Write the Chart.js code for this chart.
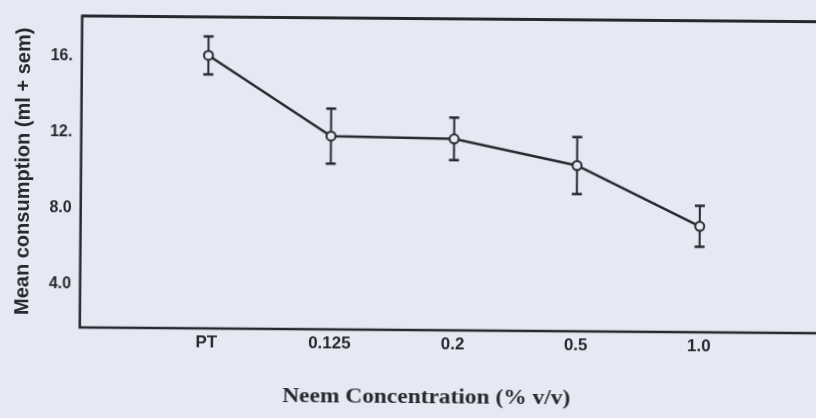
<!DOCTYPE html>
<html>
<head>
<meta charset="utf-8">
<script src="https://cdn.jsdelivr.net/npm/chart.js@4.4.1/dist/chart.umd.min.js"></script>
<style>
  html, body { margin: 0; padding: 0; background: #e6e8f3; overflow: hidden; width: 816px; height: 418px; }
  #wrap { position: absolute; left: 0; top: 0; width: 830px; height: 418px; transform: rotate(0.45deg); transform-origin: 408px 209px; }
  canvas { display: block; }
</style>
</head>
<body>
<div id="wrap"><canvas id="c" width="830" height="418"></canvas></div>
<script>
// ---- data ----
const categories = ["PT", "0.125", "0.2", "0.5", "1.0"];
const categoryPositions = [1, 2, 3, 4, 5];
const meanConsumption = [16.1, 11.9, 11.8, 10.45, 7.3];
const sem = [1.0, 1.45, 1.12, 1.5, 1.08];
const yTickValues = [4, 8, 12, 16];
const yTickLabels = ["4.0", "8.0", "12.", "16."];
const xTitle = "Neem Concentration (% v/v)";
const yTitle = "Mean consumption (ml + sem)";

// ---- styles ----
const INK = "#28282e";
const PAPER = "#e6e8f3";

const errorBars = {
  id: "errorBars",
  beforeDatasetsDraw(chart) {
    const ctx = chart.ctx, xs = chart.scales.x, ys = chart.scales.y;
    ctx.save();
    ctx.strokeStyle = INK;
    categoryPositions.forEach((p, i) => {
      const x = xs.getPixelForValue(p);
      const yt = ys.getPixelForValue(meanConsumption[i] + sem[i]);
      const yb = ys.getPixelForValue(meanConsumption[i] - sem[i]);
      ctx.lineWidth = 2;
      ctx.beginPath(); ctx.moveTo(x, yt); ctx.lineTo(x, yb); ctx.stroke();
      ctx.lineWidth = 2.5;
      ctx.beginPath();
      ctx.moveTo(x - 5, yt); ctx.lineTo(x + 5, yt);
      ctx.moveTo(x - 5, yb); ctx.lineTo(x + 5, yb);
      ctx.stroke();
    });
    ctx.restore();
  }
};

const frame = {
  id: "frame",
  afterDraw(chart) {
    const { ctx, chartArea: a } = chart;
    ctx.save();
    ctx.strokeStyle = INK;
    ctx.lineWidth = 3;
    ctx.beginPath(); ctx.moveTo(a.left - 1, a.top); ctx.lineTo(a.right, a.top); ctx.stroke();
    ctx.lineWidth = 2.5;
    ctx.beginPath(); ctx.moveTo(a.left, a.top); ctx.lineTo(a.left, a.bottom); ctx.lineTo(a.right, a.bottom); ctx.stroke();
    ctx.beginPath(); ctx.moveTo(a.right, a.top); ctx.lineTo(a.right, a.bottom); ctx.stroke();
    // x axis title
    ctx.fillStyle = INK;
    ctx.font = "bold 21px 'Liberation Serif', 'DejaVu Serif', serif";
    ctx.textBaseline = "alphabetic";
    ctx.textAlign = "left";
    const w = ctx.measureText(xTitle).width;
    const target = 288;
    const cx = a.left + 347;
    ctx.translate(cx - target / 2, 403);
    ctx.scale(target / w, 1);
    ctx.fillText(xTitle, 0, 0);
    ctx.restore();
  }
};

new Chart(document.getElementById("c"), {
  type: "line",
  data: {
    datasets: [{
      data: categoryPositions.map((p, i) => ({ x: p, y: meanConsumption[i] })),
      borderColor: INK,
      borderWidth: 2.5,
      tension: 0,
      pointRadius: 4.5,
      pointBorderWidth: 2,
      pointBackgroundColor: PAPER,
      pointBorderColor: INK,
      fill: false
    }]
  },
  options: {
    responsive: false,
    animation: false,
    events: [],
    layout: { padding: { top: 11, left: 0, right: 7, bottom: 0 } },
    plugins: { legend: { display: false }, tooltip: { enabled: false } },
    scales: {
      x: {
        type: "linear",
        min: -0.028,
        max: 6.0,
        grid: { display: false, drawTicks: false },
        border: { display: false },
        afterBuildTicks(s) { s.ticks = categoryPositions.map(v => ({ value: v })); },
        afterFit(s) { s.height = 88; },
        ticks: {
          autoSkip: false,
          maxRotation: 0,
          padding: 4,
          color: INK,
          font: { family: "'Liberation Sans', Arial, sans-serif", size: 17, weight: "bold" },
          callback: (v) => categories[categoryPositions.indexOf(v)]
        }
      },
      y: {
        min: 1.72,
        max: 18.12,
        grid: { display: false, drawTicks: false },
        border: { display: false },
        afterBuildTicks(s) { s.ticks = yTickValues.map(v => ({ value: v })); },
        afterFit(s) { s.width = 80.7; },
        ticks: {
          padding: 9,
          color: INK,
          font: { family: "'Liberation Sans', Arial, sans-serif", size: 16, weight: "bold" },
          callback: (v) => yTickLabels[yTickValues.indexOf(v)]
        },
        title: {
          display: true,
          text: yTitle,
          color: INK,
          padding: { top: 11, bottom: 0 },
          font: { family: "'Liberation Sans', Arial, sans-serif", size: 20, weight: "bold" }
        }
      }
    }
  },
  plugins: [errorBars, frame]
});
</script>
</body>
</html>
